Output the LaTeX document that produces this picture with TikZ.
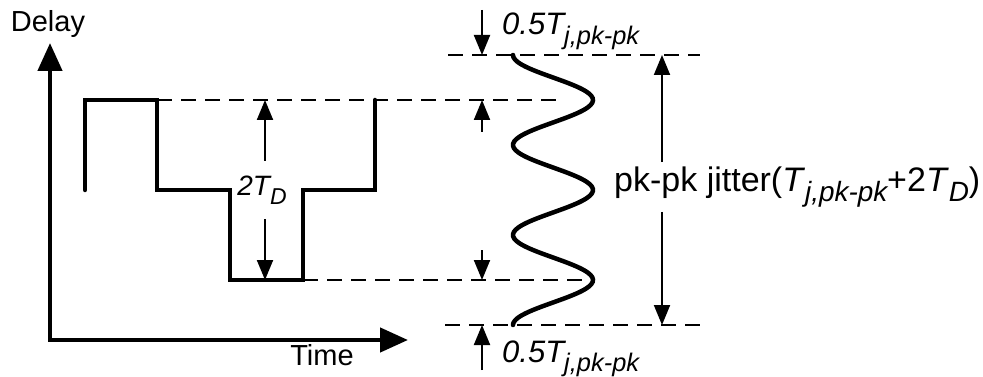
\documentclass[tikz,border=0pt]{standalone}
\usepackage{fontspec}
\setmainfont{Liberation Sans}
\usepackage{graphicx}
\usetikzlibrary{arrows.meta,positioning}
\newcommand\lowsub[1]{\raisebox{-0.32em}{\scalebox{0.82}{\itshape #1}}}

\begin{document}
\begin{tikzpicture}[
  x=1pt,y=-1pt,
  font=\fontsize{29}{34}\selectfont,
  wave/.style={line width=4.5pt,line cap=round,line join=miter},
  axis/.style={line width=4.5pt,{Triangle[length=28pt,width=24pt]}-{Triangle[length=28pt,width=24pt]}},
  dim/.style={line width=2pt,-{Triangle[length=20pt,width=16pt]}},
  guide/.style={line width=1.8pt,dash pattern=on 15pt off 9pt},
  lbl/.style={inner sep=0pt},
  big/.style={font=\fontsize{34}{40}\selectfont},
  half/.style={font=\fontsize{31}{36}\selectfont\itshape}
]
\useasboundingbox (0,0) rectangle (983,377);

% axes
\draw[axis] (50,43) -- (50,340) -- (408,340);
\node[lbl,anchor=base] (delay) at (48,32) {Delay};
\node[lbl,anchor=base] (time) at (322,365) {Time};

% delay waveform
\draw[wave] (85,190) |- (157,100) |- (230,190) |- (303,280) |- (375,190) -- (375,100);

% jittered edge
\draw[wave] plot[domain=55:325,samples=120,smooth] ({553-40*cos(4*(\x-55))},\x);

% guide lines
\coordinate (g1l) at (448,55);  \coordinate (g1r) at (700,55);
\coordinate (g2l) at (157,100); \coordinate (g2r) at (557,100);
\coordinate (g3l) at (303,280); \coordinate (g3r) at (587,280);
\coordinate (g4l) at (445,325); \coordinate (g4r) at (700,325);
\draw[guide] (g1l) -- (g1r);
\draw[guide] (g2l) -- (g2r);
\draw[guide] (g3l) -- (g3r);
\draw[guide] (g4l) -- (g4r);

% 2T_D
\coordinate (tdtop) at (265,100);
\coordinate (tdbot) at (265,280);
\node[lbl,font=\fontsize{28}{32}\selectfont\itshape,minimum height=58pt] (td) at (262,190) {2T\lowsub{D}};
\draw[dim] (td.north -| tdtop) -- (tdtop);
\draw[dim] (td.south -| tdbot) -- (tdbot);

% 0.5 T_j markers
\coordinate (m1) at (482,10);
\coordinate (m2) at (482,132);
\coordinate (m3) at (482,250);
\coordinate (m4) at (482,370);
\draw[dim] (m1) -- (m1 |- g1l);
\draw[dim] (m2) -- (m2 |- g2l);
\draw[dim] (m3) -- (m3 |- g3l);
\draw[dim] (m4) -- (m4 |- g4l);
\node[lbl,half,anchor=base west] (hjt) at (502,35) {0.5T\lowsub{j,pk-pk}};
\node[lbl,half,anchor=base west] (hjb) at (502,362) {0.5T\lowsub{j,pk-pk}};

% total jitter
\coordinate (jtop) at (662,55);
\coordinate (jbot) at (662,325);
\node[big,anchor=base west,inner xsep=0pt,inner ysep=4pt] (jit) at (614,191)
  {pk-pk jitter(\textit{T}\lowsub{j,pk-pk}+2\textit{T}\lowsub{D})};
\draw[dim] (jit.north -| jtop) -- (jtop);
\draw[dim] (jit.south -| jbot) -- (jbot);
\end{tikzpicture}
\end{document}
